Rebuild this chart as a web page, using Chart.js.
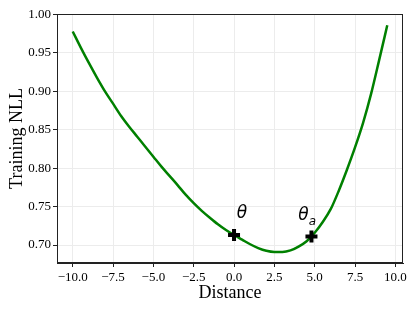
<!DOCTYPE html>
<html>
<head>
<meta charset="utf-8">
<script src="https://cdn.jsdelivr.net/npm/chart.js@4.4.0/dist/chart.umd.min.js"></script>
<style>
  html, body { margin: 0; padding: 0; background: #fff; }
  #wrap { width: 413px; height: 310px; }
</style>
</head>
<body>
<div id="wrap"><canvas id="nll"></canvas></div>
<script>
// curve
var distance = [-10, -9.5, -9, -8.5, -8, -7.5, -7, -6.5, -6, -5.5, -5, -4.5, -4, -3.5, -3, -2.5, -2, -1.5, -1, -0.5,
                0, 0.5, 1, 1.5, 2, 2.5, 3, 3.5, 4, 4.5, 5, 5.5, 6, 6.5, 7, 7.5, 8, 8.5, 9, 9.5];
var nll = [0.978, 0.957, 0.937, 0.918, 0.900, 0.884, 0.868, 0.854, 0.841, 0.828, 0.815, 0.802, 0.790, 0.778, 0.7655, 0.7545, 0.7445, 0.7355, 0.727, 0.7195,
           0.713, 0.707, 0.701, 0.696, 0.6925, 0.691, 0.691, 0.693, 0.698, 0.705, 0.716, 0.730, 0.747, 0.771, 0.798, 0.827, 0.859, 0.897, 0.941, 0.986];
// the two marked points
var markX = [0, 4.8];
var markY = [0.713, 0.711];
var markLabel = ['θ', 'θ'];
var markSub = ['', 'a'];
// ticks
var xTicks = [-10, -7.5, -5, -2.5, 0, 2.5, 5, 7.5, 10];
var yTicks = [0.70, 0.75, 0.80, 0.85, 0.90, 0.95, 1.00];

var curve = [];
for (var i = 0; i < distance.length; i++) {
    curve.push({x: distance[i], y: nll[i]});
}
var marks = [];
for (var j = 0; j < markX.length; j++) {
    marks.push({x: markX[j], y: markY[j]});
}

function fmt(v, d) {
    return v.toFixed(d).replace('-', '\u2212');
}

var serif = 'Liberation Serif, Times New Roman, serif';

var boxAndLabels = {
    id: 'boxAndLabels',
    afterDatasetsDraw: function (chart) {
        var ctx = chart.ctx;
        var a = chart.chartArea;
        var sx = chart.scales.x, sy = chart.scales.y;
        ctx.save();
        ctx.strokeStyle = '#222';
        ctx.lineWidth = 1;
        ctx.strokeRect(a.left + 0.5, a.top + 0.5, a.right - a.left - 1, a.bottom - a.top - 1);
        ctx.fillStyle = '#000';
        ctx.textAlign = 'center';
        ctx.textBaseline = 'middle';
        for (var k = 0; k < markX.length; k++) {
            var px = sx.getPixelForValue(markX[k]) + 8;
            var py = sy.getPixelForValue(markY[k]) - 21;
            if (markSub[k]) px -= 16;
            ctx.font = 'italic 17px DejaVu Sans';
            ctx.fillText(markLabel[k], px, py);
            if (markSub[k]) {
                ctx.font = 'italic 12px DejaVu Sans';
                ctx.fillText(markSub[k], px + 9, py + 6);
            }
        }
        ctx.restore();
    }
};

var grafico = new Chart(document.getElementById('nll'), {
    type: 'line',
    data: {
        datasets: [{
            data: marks,
            showLine: false,
            pointStyle: 'cross',
            pointRadius: 6,
            pointBorderWidth: 4,
            borderColor: '#000',
            backgroundColor: '#000',
            order: 0
        }, {
            data: curve,
            borderColor: '#008000',
            borderWidth: 2.5,
            pointRadius: 0,
            cubicInterpolationMode: 'monotone',
            fill: false,
            order: 1
        }]
    },
    options: {
        responsive: true,
        maintainAspectRatio: false,
        animation: false,
        events: [],
        layout: {
            padding: {left: 0, right: 9, top: 14, bottom: 0}
        },
        plugins: {
            legend: {display: false},
            tooltip: {enabled: false}
        },
        scales: {
            x: {
                type: 'linear',
                min: -10.975,
                max: 10.475,
                afterBuildTicks: function (scale) {
                    scale.ticks = xTicks.map(function (v) { return {value: v}; });
                },
                afterFit: function (scale) { scale.height = 47; },
                grid: {color: '#ececec', tickColor: '#222', tickLength: 4, lineWidth: 1},
                border: {display: true, color: '#222', width: 1},
                ticks: {
                    color: '#000',
                    padding: 3,
                    maxRotation: 0,
                    font: {family: serif, size: 13},
                    callback: function (v) { return fmt(v, 1); }
                },
                title: {
                    display: true,
                    text: 'Distance',
                    color: '#000',
                    font: {family: serif, size: 18},
                    padding: {top: 0, bottom: 6}
                }
            },
            y: {
                type: 'linear',
                min: 0.6766,
                max: 1.0007,
                afterBuildTicks: function (scale) {
                    scale.ticks = yTicks.map(function (v) { return {value: v}; });
                },
                afterFit: function (scale) { scale.width = 57; },
                grid: {color: '#ececec', tickColor: '#222', tickLength: 4, lineWidth: 1},
                border: {display: true, color: '#222', width: 1},
                ticks: {
                    color: '#000',
                    padding: 2,
                    font: {family: serif, size: 13},
                    callback: function (v) { return fmt(v, 2); }
                },
                title: {
                    display: true,
                    text: 'Training NLL',
                    color: '#000',
                    font: {family: serif, size: 18},
                    padding: {top: 6, bottom: 0}
                }
            }
        }
    },
    plugins: [boxAndLabels]
});
</script>
</body>
</html>
